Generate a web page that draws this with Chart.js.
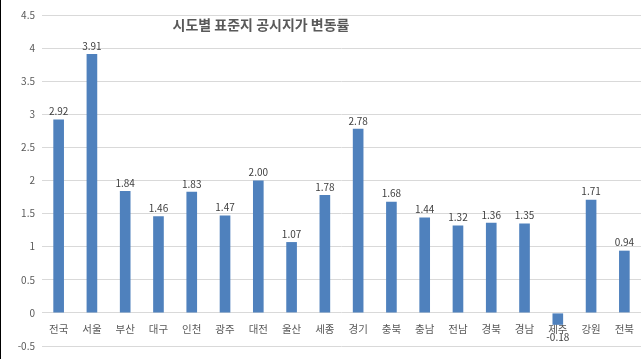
<!DOCTYPE html>
<html lang="ko">
<head>
  <meta charset="UTF-8" />
  <title>시도별 표준지 공시지가 변동률</title>
  <script src="https://cdn.jsdelivr.net/npm/chart.js"></script>
  <style>
    html, body {
      margin: 0;
      padding: 0;
      background: #ffffff;
      overflow: hidden;
    }
    .wrap {
      width: 642px;
      height: 359px;
      border-left: 1px solid #000;
      position: relative;
    }
  </style>
</head>
<body>
  <div class="wrap"><canvas id="chart" width="642" height="359"></canvas></div>

  <script>
    const titulo = "시도별 표준지 공시지가 변동률";
    const regiones = ["전국", "서울", "부산", "대구", "인천", "광주", "대전", "울산", "세종",
                      "경기", "충북", "충남", "전남", "경북", "경남", "제주", "강원", "전북"];
    const variacion = [2.92, 3.91, 1.84, 1.46, 1.83, 1.47, 2.00, 1.07, 1.78,
                       2.78, 1.68, 1.44, 1.32, 1.36, 1.35, -0.18, 1.71, 0.94];

    const fuente = "'Noto Sans CJK KR', 'Noto Sans', sans-serif";

    // etiquetas de valor encima / debajo de cada barra
    const etiquetas = {
      id: "etiquetas",
      afterDatasetsDraw(chart) {
        const ctx = chart.ctx;
        const meta = chart.getDatasetMeta(0);
        ctx.save();
        ctx.font = "10px " + fuente;
        ctx.fillStyle = "#404040";
        ctx.textAlign = "center";
        meta.data.forEach((bar, i) => {
          const v = variacion[i];
          if (v >= 0) {
            ctx.textBaseline = "bottom";
            ctx.fillText(v.toFixed(2), bar.x, bar.y - 3);
          } else {
            ctx.textBaseline = "top";
            ctx.fillText(v.toFixed(2), bar.x, bar.y + 7);
          }
        });
        ctx.restore();
      }
    };

    const tituloPlugin = {
      id: "tituloPlugin",
      afterDraw(chart) {
        const ctx = chart.ctx;
        ctx.save();
        ctx.font = "bold 14px " + fuente;
        ctx.fillStyle = "#595959";
        ctx.textAlign = "center";
        ctx.textBaseline = "middle";
        ctx.fillText(titulo, 260, 25);
        ctx.restore();
      }
    };

    new Chart(document.getElementById("chart"), {
      type: "bar",
      data: {
        labels: regiones,
        datasets: [{
          data: variacion,
          backgroundColor: "#4f81bd",
          borderWidth: 0,
          categoryPercentage: 1,
          barPercentage: 0.32
        }]
      },
      options: {
        responsive: false,
        animation: false,
        layout: { padding: { top: 15, bottom: 10, right: 2, left: 0 } },
        plugins: {
          legend: { display: false },
          tooltip: { enabled: false }
        },
        scales: {
          x: {
            position: { y: 0 },
            grid: { display: false },
            border: { display: false },
            ticks: {
              color: "#595959",
              font: { family: fuente, size: 10.5 },
              padding: 2,
              maxRotation: 0,
              autoSkip: false
            }
          },
          y: {
            min: -0.5,
            max: 4.5,
            afterFit(scale) { scale.width = 41; },
            grid: { color: "#d9d9d9", drawTicks: false },
            border: { display: false },
            ticks: {
              stepSize: 0.5,
              color: "#595959",
              font: { family: fuente, size: 10 },
              padding: 7,
              callback: (v) => String(Math.round(v * 10) / 10)
            }
          }
        }
      },
      plugins: [etiquetas, tituloPlugin]
    });
  </script>
</body>
</html>
